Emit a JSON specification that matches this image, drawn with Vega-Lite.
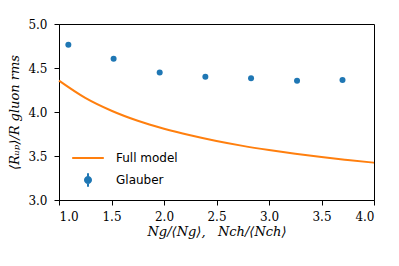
{
  "$schema": "https://vega.github.io/schema/vega-lite/v6.json",
  "autosize": {"type": "none"},
  "padding": {"left": 59, "top": 24, "right": 25, "bottom": 66},
  "width": 315,
  "height": 176,
  "background": "white",
  "config": {
    "view": {"stroke": "black", "strokeWidth": 1},
    "axis": {
      "grid": false,
      "domainColor": "black",
      "tickColor": "black",
      "labelColor": "black",
      "titleColor": "black",
      "labelFont": "'DejaVu Serif', serif",
      "labelFontSize": 12,
      "titleFont": "'DejaVu Serif', serif",
      "titleFontSize": 13,
      "titleFontStyle": "italic",
      "titleFontWeight": "normal",
      "tickSize": 5
    }
  },
  "datasets": {
    "model": [
      {"x": 1.0, "y": 4.356, "series": "Full model"},
      {"x": 1.25, "y": 4.16, "series": "Full model"},
      {"x": 1.5, "y": 4.014, "series": "Full model"},
      {"x": 1.75, "y": 3.90, "series": "Full model"},
      {"x": 2.0, "y": 3.81, "series": "Full model"},
      {"x": 2.25, "y": 3.735, "series": "Full model"},
      {"x": 2.5, "y": 3.67, "series": "Full model"},
      {"x": 2.75, "y": 3.615, "series": "Full model"},
      {"x": 3.0, "y": 3.568, "series": "Full model"},
      {"x": 3.25, "y": 3.526, "series": "Full model"},
      {"x": 3.5, "y": 3.488, "series": "Full model"},
      {"x": 3.75, "y": 3.455, "series": "Full model"},
      {"x": 4.0, "y": 3.424, "series": "Full model"}
    ],
    "glauber": [
      {"x": 1.089, "y": 4.765, "series": "Glauber"},
      {"x": 1.52, "y": 4.606, "series": "Glauber"},
      {"x": 1.959, "y": 4.45, "series": "Glauber"},
      {"x": 2.394, "y": 4.40, "series": "Glauber"},
      {"x": 2.829, "y": 4.383, "series": "Glauber"},
      {"x": 3.267, "y": 4.356, "series": "Glauber"},
      {"x": 3.70, "y": 4.364, "series": "Glauber"}
    ]
  },
  "layer": [
    {
      "data": {"name": "model"},
      "mark": {"type": "line", "strokeWidth": 2, "interpolate": "monotone"},
      "encoding": {
        "x": {
          "field": "x", "type": "quantitative",
          "scale": {"domain": [1, 4], "nice": false, "zero": false},
          "axis": {
            "values": [1, 1.5, 2, 2.5, 3, 3.5, 4], "format": ".1f",
            "title": "Ng/⟨Ng⟩,\u00a0\u00a0\u00a0Nch/⟨Nch⟩",
            "labelPadding": 6, "titlePadding": 3
          }
        },
        "y": {
          "field": "y", "type": "quantitative",
          "scale": {"domain": [3, 5], "nice": false, "zero": false},
          "axis": {
            "values": [3, 3.5, 4, 4.5, 5], "format": ".1f",
            "title": "⟨Rᵤₚ⟩/R\u00a0gluon\u00a0rms",
            "labelPadding": 7, "titlePadding": 6
          }
        },
        "color": {
          "field": "series", "type": "nominal",
          "scale": {"domain": ["Full model", "Glauber"], "range": ["#ff7f0e", "#1f77b4"]},
          "legend": {
            "title": null,
            "orient": "bottom-left",
            "offset": 12,
            "symbolSize": 1000,
            "clipHeight": 16,
            "rowPadding": 6,
            "labelOffset": 11,
            "labelFont": "DejaVu Sans",
            "labelFontSize": 12,
            "labelColor": "black",
            "encode": {
              "symbols": {
                "update": {
                  "shape": {"signal": "datum.value === 'Glauber' ? 'M0,-0.42L0,0.42M-0.19,0A0.19,0.19,0,1,0,0.19,0A0.19,0.19,0,1,0,-0.19,0Z' : 'stroke'"},
                  "stroke": {"scale": "color", "field": "value"},
                  "fill": {"scale": "color", "field": "value"},
                  "strokeWidth": {"value": 2},
                  "opacity": {"value": 1},
                  "fillOpacity": {"value": 1},
                  "strokeOpacity": {"value": 1}
                }
              }
            }
          }
        }
      }
    },
    {
      "data": {"name": "glauber"},
      "mark": {"type": "point", "filled": true, "size": 36, "opacity": 1, "color": "#1f77b4"},
      "encoding": {
        "x": {"field": "x", "type": "quantitative"},
        "y": {"field": "y", "type": "quantitative"}
      }
    }
  ]
}
